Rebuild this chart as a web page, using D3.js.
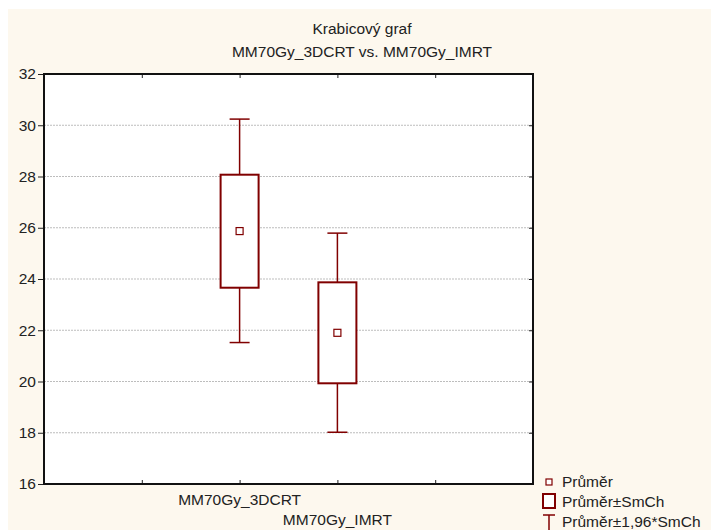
<!DOCTYPE html>
<html><head><meta charset="utf-8">
<script src="https://cdn.jsdelivr.net/npm/d3@7"></script>
<style>html,body{margin:0;padding:0;background:#fff;}svg{display:block;}</style>
</head><body>
<script>
const categories = ["MM70Gy_3DCRT", "MM70Gy_IMRT"];
const means = [25.87, 21.9];
const boxLow = [23.66, 19.93];
const boxHigh = [28.07, 23.87];
const whiskerLow = [21.52, 18.02];
const whiskerHigh = [30.24, 25.79];
const yTicks = [16, 18, 20, 22, 24, 26, 28, 30, 32];
const legendLabels = ["Průměr", "Průměr±SmCh", "Průměr±1,96*SmCh"];
const titleLines = ["Krabicový graf", "MM70Gy_3DCRT vs. MM70Gy_IMRT"];

const W = 711, H = 530;
const font = "'Liberation Sans', Arial, sans-serif";
const fs = 15.5;
const red = "#800000";
const svg = d3.select("body").append("svg").attr("width", W).attr("height", H);
svg.append("rect").attr("x", 8).attr("y", 9).attr("width", W - 8).attr("height", H - 9).attr("fill", "#fdf8ee");

const L = 44, R = 533, T = 74, B = 484;
const x = d3.scaleLinear().domain([0, 5]).range([L, R]);
const y = d3.scaleLinear().domain([16, 32]).range([B, T]);
const catPos = categories.map((c, i) => i + 2);

svg.append("rect").attr("x", L).attr("y", T).attr("width", R - L).attr("height", B - T).attr("fill", "#fff");

// grid
svg.append("g").selectAll("line").data(yTicks.filter(t => t > 16 && t < 32)).join("line")
  .attr("x1", L).attr("x2", R).attr("y1", d => y(d)).attr("y2", d => y(d))
  .attr("stroke", "#bdbdbd").attr("stroke-width", 1).attr("stroke-dasharray", "2,1");

// axes
const gl = svg.append("g").attr("transform", `translate(${L},0)`)
  .call(d3.axisLeft(y).tickValues(yTicks).tickSize(6).tickPadding(2).tickFormat(d3.format("d")));
gl.select(".domain").remove();
gl.selectAll("line").attr("stroke", "#222");
gl.selectAll("text").attr("font-family", font).attr("font-size", fs).attr("fill", "#222");

const gr = svg.append("g").attr("transform", `translate(${R},0)`)
  .call(d3.axisLeft(y).tickValues(yTicks).tickSize(-4).tickFormat(""));
gr.select(".domain").remove();
gr.selectAll("line").attr("stroke", "#222").attr("transform", "scale(-1,1)");

const gb = svg.append("g").attr("transform", `translate(0,${B})`)
  .call(d3.axisBottom(x).tickValues([1, 2, 3, 4]).tickSize(-4).tickFormat(""));
gb.select(".domain").remove();
gb.selectAll("line").attr("stroke", "#222");
const gt = svg.append("g").attr("transform", `translate(0,${T})`)
  .call(d3.axisTop(x).tickValues([1, 2, 3, 4]).tickSize(-4).tickFormat(""));
gt.select(".domain").remove();
gt.selectAll("line").attr("stroke", "#222");

svg.append("rect").attr("x", L).attr("y", T).attr("width", R - L).attr("height", B - T)
  .attr("fill", "none").attr("stroke", "#111").attr("stroke-width", 2);

// category labels
svg.append("g").selectAll("text").data(categories).join("text")
  .attr("x", (d, i) => x(catPos[i])).attr("y", (d, i) => 505 + i * 20)
  .attr("text-anchor", "middle").attr("font-family", font).attr("font-size", fs).attr("fill", "#222")
  .text(d => d);

// boxes
const boxW = 38, capW = 20, mk = 7;
const g = svg.append("g");
categories.forEach((c, i) => {
  const cx = x(catPos[i]);
  g.append("line").attr("x1", cx).attr("x2", cx).attr("y1", y(whiskerHigh[i])).attr("y2", y(boxHigh[i]))
    .attr("stroke", red).attr("stroke-width", 1.5);
  g.append("line").attr("x1", cx).attr("x2", cx).attr("y1", y(boxLow[i])).attr("y2", y(whiskerLow[i]))
    .attr("stroke", red).attr("stroke-width", 1.5);
  [whiskerHigh[i], whiskerLow[i]].forEach(v => {
    g.append("line").attr("x1", cx - capW / 2).attr("x2", cx + capW / 2).attr("y1", y(v)).attr("y2", y(v))
      .attr("stroke", red).attr("stroke-width", 1.5);
  });
  g.append("rect").attr("x", cx - boxW / 2).attr("y", y(boxHigh[i])).attr("width", boxW)
    .attr("height", y(boxLow[i]) - y(boxHigh[i])).attr("fill", "#fff").attr("stroke", red).attr("stroke-width", 2);
  g.append("rect").attr("x", cx - mk / 2).attr("y", y(means[i]) - mk / 2).attr("width", mk).attr("height", mk)
    .attr("fill", "#fff").attr("stroke", red).attr("stroke-width", 1.2);
});

// title
svg.append("g").selectAll("text").data(titleLines).join("text")
  .attr("x", 362).attr("y", (d, i) => 34 + i * 23).attr("text-anchor", "middle")
  .attr("font-family", font).attr("font-size", fs).attr("fill", "#222").text(d => d);

// legend
const lg = svg.append("g");
const lx = 549;
lg.append("rect").attr("x", lx - 3).attr("y", 479).attr("width", 6).attr("height", 6)
  .attr("fill", "#fff").attr("stroke", red).attr("stroke-width", 1.2);
lg.append("rect").attr("x", lx - 6).attr("y", 494).attr("width", 12).attr("height", 14)
  .attr("fill", "#fff").attr("stroke", red).attr("stroke-width", 2);
lg.append("line").attr("x1", lx - 6).attr("x2", lx + 6).attr("y1", 515).attr("y2", 515).attr("stroke", red).attr("stroke-width", 1.5);
lg.append("line").attr("x1", lx).attr("x2", lx).attr("y1", 515).attr("y2", 531).attr("stroke", red).attr("stroke-width", 1.5);
lg.selectAll("text").data(legendLabels).join("text")
  .attr("x", 562).attr("y", (d, i) => 487 + i * 20)
  .attr("font-family", font).attr("font-size", fs).attr("fill", "#222").text(d => d);
</script>
</body></html>
